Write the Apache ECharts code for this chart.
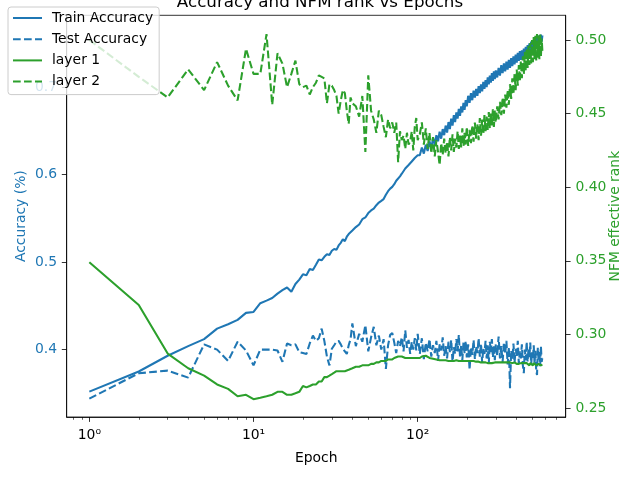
<!DOCTYPE html>
<html>
<head>
<meta charset="utf-8">
<script src="https://cdn.jsdelivr.net/npm/echarts@6/dist/echarts.min.js"></script>
<style>
  html, body { margin: 0; padding: 0; background: #fff; }
  #main { width: 640px; height: 480px; }
</style>
</head>
<body>
<div id="main"></div>
<script>
// epochs (dense at start, thinner later)
var epochs = [
  1, 2, 3, 4, 5, 6, 7, 8, 9, 10,
  11, 12, 13, 14, 15, 16, 17, 18, 19, 20,
  21, 22, 23, 24, 25, 26, 27, 28, 29, 30,
  31, 32, 33, 34, 35, 36, 37, 38, 39, 40,
  42, 44, 46, 48, 50, 52, 54, 56, 58, 60,
  62, 64, 66, 68, 70, 72, 74, 76, 78, 80,
  82, 84, 86, 88, 90, 92, 94, 96, 98, 100,
  103, 106, 109, 112, 115, 118, 121, 124, 127, 130, 133,
  136, 139, 142, 145, 148, 151, 154, 157, 160, 163, 166,
  169, 172, 175, 178, 181, 184, 187, 190, 193, 196, 199,
  203, 207, 211, 215, 219, 223, 227, 231, 235, 239,
  243, 247, 251, 255, 259, 263, 267, 271, 275, 279,
  283, 287, 291, 295, 299,
  305, 311, 317, 323, 329, 335, 341, 347, 353, 359,
  365, 371, 377, 383, 389, 395, 401, 407, 413, 419,
  425, 431, 437, 443, 449, 455, 461, 467, 473, 479,
  485, 491, 497, 503, 509, 515, 521, 527, 533, 539,
  545, 551, 557, 563, 569, 575
];

var trainAcc = [
  0.352, 0.375, 0.393, 0.404, 0.412, 0.424, 0.429, 0.434, 0.442, 0.443,
  0.453, 0.456, 0.459, 0.464, 0.468, 0.471, 0.466, 0.475, 0.480, 0.486,
  0.485, 0.492, 0.491, 0.497, 0.503, 0.502, 0.506, 0.509, 0.508, 0.513,
  0.515, 0.514, 0.519, 0.522, 0.526, 0.524, 0.529, 0.532, 0.531, 0.536,
  0.540, 0.543, 0.549, 0.551, 0.556, 0.559, 0.561, 0.565, 0.568, 0.570,
  0.572, 0.577, 0.581, 0.584, 0.586, 0.589, 0.593, 0.594, 0.598, 0.601,
  0.603, 0.607, 0.608, 0.611, 0.613, 0.615, 0.617, 0.619, 0.620, 0.622,
  0.622, 0.631, 0.624, 0.634, 0.627, 0.638, 0.630, 0.642, 0.634, 0.645, 0.638,
  0.649, 0.641, 0.652, 0.645, 0.656, 0.648, 0.660, 0.652, 0.664, 0.656, 0.668,
  0.660, 0.671, 0.664, 0.675, 0.667, 0.678, 0.671, 0.682, 0.674, 0.685, 0.678,
  0.690, 0.682, 0.693, 0.685, 0.696, 0.688, 0.698, 0.690, 0.701, 0.693,
  0.703, 0.695, 0.706, 0.698, 0.708, 0.700, 0.711, 0.703, 0.713, 0.705,
  0.716, 0.707, 0.718, 0.709, 0.719,
  0.711, 0.722, 0.713, 0.725, 0.716, 0.727, 0.718, 0.729, 0.720, 0.731,
  0.722, 0.733, 0.724, 0.735, 0.726, 0.737, 0.728, 0.739, 0.730, 0.741,
  0.731, 0.742, 0.733, 0.744, 0.735, 0.746, 0.737, 0.748, 0.739, 0.750,
  0.741, 0.752, 0.743, 0.753, 0.745, 0.755, 0.746, 0.756, 0.748, 0.758,
  0.749, 0.759, 0.750, 0.760, 0.752, 0.759
];

var testAcc = [
  0.344, 0.373, 0.376, 0.368, 0.406, 0.400, 0.387, 0.409, 0.399, 0.382,
  0.400, 0.400, 0.400, 0.399, 0.386, 0.407, 0.405, 0.406, 0.397, 0.396,
  0.395, 0.407, 0.416, 0.410, 0.413, 0.424, 0.410, 0.392, 0.382, 0.401,
  0.405, 0.409, 0.410, 0.406, 0.401, 0.398, 0.395, 0.405, 0.412, 0.430,
  0.404, 0.418, 0.409, 0.428, 0.398, 0.414, 0.426, 0.405, 0.416, 0.400,
  0.412, 0.378, 0.405, 0.417, 0.419, 0.408, 0.396, 0.410, 0.404, 0.414,
  0.398, 0.422, 0.402, 0.411, 0.395, 0.409, 0.400, 0.413, 0.399, 0.418,
  0.395, 0.413, 0.389, 0.408, 0.398, 0.412, 0.392, 0.405, 0.396, 0.410, 0.387,
  0.406, 0.399, 0.414, 0.393, 0.404, 0.390, 0.409, 0.397, 0.411, 0.386, 0.403,
  0.395, 0.412, 0.398, 0.417, 0.392, 0.405, 0.388, 0.408, 0.396, 0.410, 0.391,
  0.406, 0.377, 0.403, 0.394, 0.411, 0.389, 0.404, 0.396, 0.413, 0.392,
  0.407, 0.385, 0.402, 0.395, 0.410, 0.390, 0.405, 0.384, 0.409, 0.397,
  0.412, 0.391, 0.404, 0.388, 0.406,
  0.393, 0.415, 0.390, 0.404, 0.386, 0.408, 0.395, 0.410, 0.383, 0.403,
  0.356, 0.399, 0.389, 0.407, 0.385, 0.401, 0.392, 0.410, 0.384, 0.398,
  0.390, 0.406, 0.382, 0.373, 0.400, 0.388, 0.409, 0.386, 0.401, 0.391,
  0.408, 0.383, 0.397, 0.389, 0.405, 0.384, 0.399, 0.376, 0.371, 0.402,
  0.387, 0.398, 0.381, 0.404, 0.386, 0.391
];

var rankLayer1 = [
  0.349, 0.320, 0.287, 0.277, 0.272, 0.266, 0.263, 0.258, 0.259, 0.256,
  0.257, 0.258, 0.259, 0.261, 0.261, 0.259, 0.259, 0.260, 0.261, 0.265,
  0.264, 0.265, 0.266, 0.266, 0.268, 0.268, 0.271, 0.271, 0.272, 0.273,
  0.274, 0.275, 0.275, 0.275, 0.275, 0.275, 0.276, 0.276, 0.277, 0.277,
  0.278, 0.278, 0.279, 0.279, 0.279, 0.280, 0.280, 0.281, 0.281, 0.282,
  0.282, 0.282, 0.283, 0.283, 0.283, 0.284, 0.284, 0.285, 0.284, 0.285,
  0.285, 0.284, 0.285, 0.284, 0.284, 0.284, 0.284, 0.284, 0.284, 0.284,
  0.284, 0.285, 0.285, 0.2855, 0.285, 0.284, 0.284, 0.2835, 0.283, 0.283, 0.283,
  0.2825, 0.283, 0.2825, 0.282, 0.2825, 0.282, 0.282, 0.2825, 0.282, 0.2825, 0.282,
  0.282, 0.2825, 0.282, 0.282, 0.2825, 0.282, 0.282, 0.282, 0.2815, 0.282, 0.2815,
  0.282, 0.2815, 0.282, 0.2815, 0.282, 0.281, 0.2815, 0.281, 0.2815, 0.281,
  0.281, 0.2805, 0.281, 0.2805, 0.281, 0.2805, 0.2805, 0.280, 0.2805, 0.281,
  0.2805, 0.281, 0.2815, 0.281, 0.2815,
  0.281, 0.2815, 0.281, 0.2815, 0.281, 0.2805, 0.281, 0.2805, 0.281, 0.2805,
  0.281, 0.280, 0.2805, 0.280, 0.281, 0.2805, 0.280, 0.2805, 0.280, 0.2795,
  0.2805, 0.280, 0.2795, 0.2805, 0.280, 0.2795, 0.2805, 0.2795, 0.280, 0.279,
  0.2805, 0.2795, 0.280, 0.279, 0.2805, 0.2795, 0.280, 0.279, 0.2795, 0.2785,
  0.280, 0.279, 0.2805, 0.279, 0.280, 0.2795
];

var rankLayer2 = [
  0.500, 0.475, 0.461, 0.480, 0.466, 0.485, 0.469, 0.459, 0.494, 0.477,
  0.477, 0.504, 0.456, 0.491, 0.484, 0.468, 0.477, 0.486, 0.470, 0.468,
  0.469, 0.463, 0.468, 0.471, 0.476, 0.475, 0.474, 0.457, 0.470, 0.469,
  0.466, 0.462, 0.450, 0.459, 0.466, 0.464, 0.452, 0.443, 0.461, 0.457,
  0.455, 0.448, 0.462, 0.424, 0.476, 0.452, 0.446, 0.437, 0.452, 0.449,
  0.441, 0.434, 0.446, 0.440, 0.444, 0.437, 0.444, 0.417, 0.438, 0.432,
  0.435, 0.426, 0.437, 0.429, 0.431, 0.438, 0.425, 0.441, 0.447, 0.432,
  0.436, 0.444, 0.429, 0.440, 0.426, 0.437, 0.423, 0.434, 0.421, 0.432, 0.424,
  0.415, 0.430, 0.422, 0.433, 0.423, 0.431, 0.421, 0.434, 0.425, 0.436, 0.424,
  0.433, 0.427, 0.438, 0.426, 0.435, 0.427, 0.440, 0.428, 0.437, 0.429, 0.441,
  0.428, 0.439, 0.430, 0.442, 0.431, 0.444, 0.433, 0.443, 0.432, 0.447,
  0.435, 0.446, 0.436, 0.449, 0.438, 0.448, 0.439, 0.451, 0.440, 0.450,
  0.442, 0.453, 0.441, 0.452, 0.444,
  0.455, 0.446, 0.458, 0.449, 0.461, 0.450, 0.463, 0.454, 0.466, 0.456,
  0.470, 0.460, 0.474, 0.463, 0.477, 0.466, 0.480, 0.469, 0.483, 0.472,
  0.486, 0.474, 0.489, 0.477, 0.492, 0.479, 0.494, 0.481, 0.496, 0.483,
  0.498, 0.484, 0.500, 0.485, 0.502, 0.487, 0.503, 0.486, 0.504, 0.488,
  0.503, 0.487, 0.504, 0.489, 0.501, 0.492
];

// tick positions and labels
var xMajorTicks = [1, 10, 100];
var xMajorLabels = ['10\u2070', '10\u00b9', '10\u00b2'];
var xMinorTicks = [0.8, 0.9, 2, 3, 4, 5, 6, 7, 8, 9, 20, 30, 40, 50, 60, 70, 80, 90, 200, 300, 400, 500, 600, 700];
var accTicks = [0.4, 0.5, 0.6, 0.7];
var rankTicks = [0.25, 0.30, 0.35, 0.40, 0.45, 0.50];

var BLUE = '#1f77b4', GREEN = '#2ca02c';
var FS = 13.9;
var LW = 2.08;
var DASH = [7.7, 3.3];

function pairs(ys) {
  return epochs.map(function (e, i) { return [e, ys[i]]; });
}

var chart = echarts.init(document.getElementById('main'));
var option = {
  animation: false,
  textStyle: { fontFamily: 'DejaVu Sans' },
  title: {
    text: 'Accuracy and NFM rank vs Epochs',
    left: 'center', top: -11,
    textStyle: { fontSize: 16.7, fontWeight: 'normal', color: '#000', fontFamily: 'DejaVu Sans' }
  },
  legend: {
    orient: 'vertical', left: 8, top: 7,
    padding: [4, 6, 6, 4],
    itemWidth: 29, itemHeight: 14, itemGap: 7.2,
    itemStyle: { opacity: 0 },
    backgroundColor: 'rgba(255,255,255,0.8)',
    borderColor: '#cccccc', borderWidth: 1, borderRadius: 3,
    textStyle: { fontSize: FS, color: '#000', fontFamily: 'DejaVu Sans', padding: [0, 0, 0, 5] },
    data: ['Train Accuracy', 'Test Accuracy', 'layer 1', 'layer 2']
  },
  grid: {
    left: 66.7, right: 74.3, top: 15.3, bottom: 63,
    show: true, borderColor: '#000', borderWidth: 0.8, backgroundColor: 'transparent'
  },
  xAxis: [{
    type: 'log', logBase: 10, min: 0.728, max: 797,
    name: 'Epoch', nameLocation: 'middle', nameGap: 34,
    nameTextStyle: { fontSize: FS, color: '#000' },
    axisLine: { lineStyle: { color: '#000', width: 0.8 } },
    axisTick: { length: 4.9, lineStyle: { color: '#000', width: 0.8 }, customValues: xMajorTicks },
    axisLabel: {
      fontSize: FS, color: '#000', margin: 11,
      customValues: xMajorTicks,
      formatter: function (v) { return xMajorLabels[xMajorTicks.indexOf(Math.round(v))] || ''; }
    },
    splitLine: { show: false },
    minorTick: { show: false }
  }, {
    type: 'log', logBase: 10, min: 0.728, max: 797, position: 'bottom',
    axisLine: { show: false },
    axisTick: { length: 2.8, lineStyle: { color: '#000', width: 0.6 }, customValues: xMinorTicks },
    axisLabel: { show: false },
    splitLine: { show: false }
  }],
  yAxis: [{
    type: 'value', min: 0.323, max: 0.782, position: 'left',
    name: 'Accuracy (%)', nameLocation: 'middle', nameGap: 38, nameRotate: 90,
    nameMoveOverlap: false,
    nameTextStyle: { fontSize: FS, color: BLUE },
    axisLine: { show: true, lineStyle: { color: '#000', width: 0.8 } },
    axisTick: { show: true, length: 4.9, lineStyle: { color: '#000', width: 0.8 }, customValues: accTicks },
    axisLabel: {
      fontSize: FS, color: BLUE, margin: 9.7, customValues: accTicks,
      formatter: function (v) { return v.toFixed(1); }
    },
    splitLine: { show: false }
  }, {
    type: 'value', min: 0.2439, max: 0.5168, position: 'right',
    name: 'NFM effective rank', nameLocation: 'middle', nameGap: 43, nameRotate: 90,
    nameMoveOverlap: false,
    nameTextStyle: { fontSize: FS, color: GREEN },
    axisLine: { show: true, lineStyle: { color: '#000', width: 0.8 } },
    axisTick: { show: true, length: 4.9, lineStyle: { color: '#000', width: 0.8 }, customValues: rankTicks },
    axisLabel: {
      fontSize: FS, color: GREEN, margin: 9.7, customValues: rankTicks,
      formatter: function (v) { return v.toFixed(2); }
    },
    splitLine: { show: false }
  }],
  series: [{
    name: 'Train Accuracy', type: 'line', xAxisIndex: 0, yAxisIndex: 0,
    data: pairs(trainAcc), showSymbol: false, symbol: 'none',
    lineStyle: { color: BLUE, width: LW }, itemStyle: { color: BLUE }
  }, {
    name: 'Test Accuracy', type: 'line', xAxisIndex: 0, yAxisIndex: 0,
    data: pairs(testAcc), showSymbol: false, symbol: 'none',
    lineStyle: { color: BLUE, width: LW, type: DASH }, itemStyle: { color: BLUE }
  }, {
    name: 'layer 1', type: 'line', xAxisIndex: 0, yAxisIndex: 1,
    data: pairs(rankLayer1), showSymbol: false, symbol: 'none',
    lineStyle: { color: GREEN, width: LW }, itemStyle: { color: GREEN }
  }, {
    name: 'layer 2', type: 'line', xAxisIndex: 0, yAxisIndex: 1,
    data: pairs(rankLayer2), showSymbol: false, symbol: 'none',
    lineStyle: { color: GREEN, width: LW, type: DASH }, itemStyle: { color: GREEN }
  }]
};
chart.setOption(option);
window.addEventListener('resize', function () {
  chart.resize();
});
</script>
</body>
</html>
